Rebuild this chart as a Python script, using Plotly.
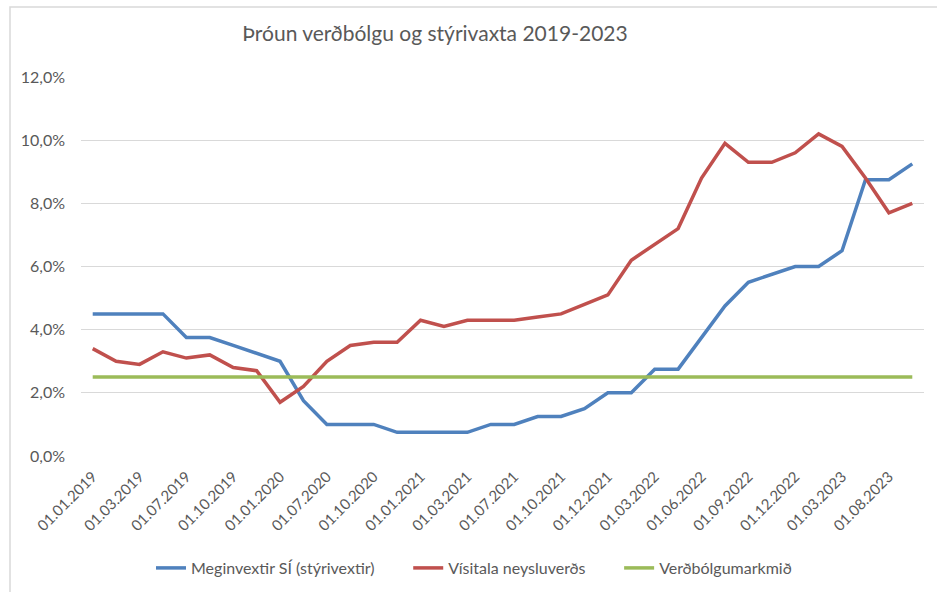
import plotly.graph_objects as go

categories = [
    "01.01.2019", "01.02.2019", "01.03.2019", "01.05.2019", "01.07.2019", "01.08.2019",
    "01.10.2019", "01.11.2019", "01.01.2020", "01.04.2020", "01.07.2020", "01.08.2020",
    "01.10.2020", "01.11.2020", "01.01.2021", "01.02.2021", "01.03.2021", "01.05.2021",
    "01.07.2021", "01.08.2021", "01.10.2021", "01.11.2021", "01.12.2021", "01.02.2022",
    "01.03.2022", "01.05.2022", "01.06.2022", "01.08.2022", "01.09.2022", "01.10.2022",
    "01.12.2022", "01.02.2023", "01.03.2023", "01.05.2023", "01.08.2023", "01.10.2023",
]
tick_labels = categories[::2]

meginvextir = [
    4.5, 4.5, 4.5, 4.5, 3.75, 3.75, 3.5, 3.25, 3.0, 1.75, 1.0, 1.0,
    1.0, 0.75, 0.75, 0.75, 0.75, 1.0, 1.0, 1.25, 1.25, 1.5, 2.0, 2.0,
    2.75, 2.75, 3.75, 4.75, 5.5, 5.75, 6.0, 6.0, 6.5, 8.75, 8.75, 9.25,
]
visitala = [
    3.4, 3.0, 2.9, 3.3, 3.1, 3.2, 2.8, 2.7, 1.7, 2.2, 3.0, 3.5,
    3.6, 3.6, 4.3, 4.1, 4.3, 4.3, 4.3, 4.4, 4.5, 4.8, 5.1, 6.2,
    6.7, 7.2, 8.8, 9.9, 9.3, 9.3, 9.6, 10.2, 9.8, 8.8, 7.7, 8.0,
]
markmid = [2.5] * len(categories)

series_names = ["Meginvextir SÍ (stýrivextir)", "Vísitala neysluverðs", "Verðbólgumarkmið"]
series_values = [meginvextir, visitala, markmid]
series_colors = ["#4F81BD", "#C0504D", "#9BBB59"]

FONT = "Lato"
TXT = "#595959"
PAD = "\u00a0" * 7

fig = go.Figure()
for i, (name, vals, col) in enumerate(zip(series_names, series_values, series_colors)):
    label = name + (PAD if i < len(series_names) - 1 else "")
    fig.add_trace(go.Scatter(
        x=categories, y=[v / 100 for v in vals], name=label, mode="lines",
        line=dict(color=col, width=3.5),
    ))

W, H = 937, 592
L, R, T, B = 81, 13, 77, 136
pw, ph = W - L - R, H - T - B

def px_to_paper_x(px):
    return (px - L) / pw

def py_to_paper_y(py):
    return (H - B - py) / ph

fig.update_layout(
    width=W, height=H,
    margin=dict(l=L, r=R, t=T, b=B, autoexpand=False),
    paper_bgcolor="white", plot_bgcolor="white",
    separators=",.",
    font=dict(family=FONT, color=TXT, size=14),
    title=dict(text="Þróun verðbólgu og stýrivaxta 2019-2023",
               x=435 / W, xanchor="center", xref="container",
               y=1 - 34 / H, yanchor="middle", yref="container",
               font=dict(family=FONT, size=21, color=TXT)),
    showlegend=True,
    legend=dict(orientation="h", x=px_to_paper_x(151), xanchor="left",
                y=py_to_paper_y(568), yanchor="middle",
                font=dict(family=FONT, size=16, color=TXT),
                bgcolor="rgba(0,0,0,0)"),
    xaxis=dict(type="category", range=[-0.5, len(categories) - 0.5],
               tickmode="array", tickvals=tick_labels, ticktext=tick_labels,
               tickangle=-45, showgrid=False, zeroline=False, showline=False,
               ticks="", automargin=False, ticklabelstandoff=8,
               tickfont=dict(family=FONT, size=15, color=TXT)),
    yaxis=dict(range=[0, 0.12], dtick=0.02, tickformat=".1%",
               showgrid=True, gridcolor="#D9D9D9", gridwidth=1,
               zeroline=False, showline=False, ticks="", automargin=False,
               ticklabelstandoff=15,
               tickfont=dict(family=FONT, size=16, color=TXT)),
    shapes=[
        dict(type="rect", xref="paper", yref="paper",
             x0=px_to_paper_x(10), x1=px_to_paper_x(960),
             y0=py_to_paper_y(620), y1=py_to_paper_y(7),
             line=dict(color="#D9D9D9", width=1.5), fillcolor="rgba(0,0,0,0)",
             layer="below"),
    ],
)

fig.write_html("out.html", config={"displayModeBar": False},
               post_script="document.body.style.margin='0';document.body.style.overflow='hidden';")
